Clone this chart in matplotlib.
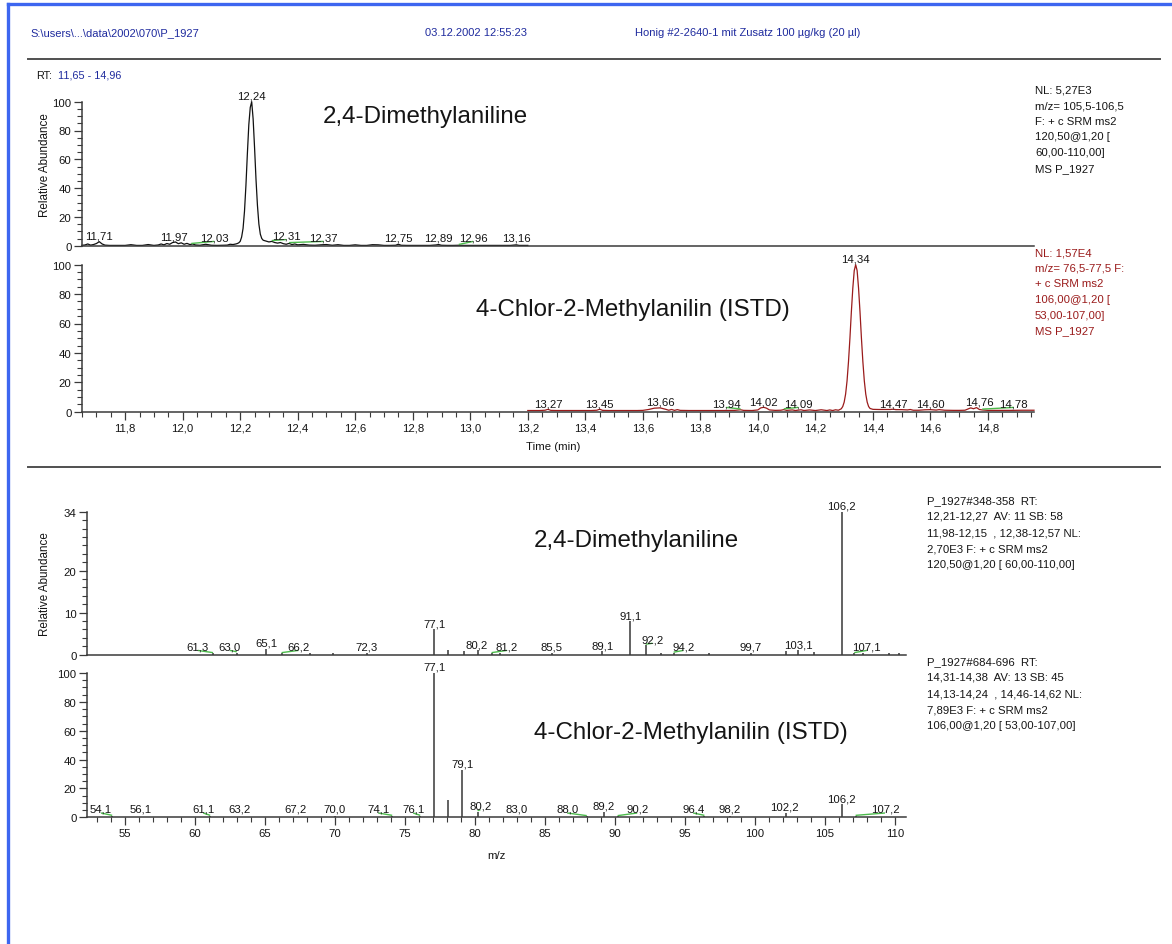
import matplotlib
matplotlib.use('Agg')
import matplotlib.pyplot as plt
from matplotlib.lines import Line2D
from matplotlib.ticker import MultipleLocator, FixedLocator, FuncFormatter

# ---------------- data ----------------
header_path = r"S:\users\...\data\2002\070\P_1927"
header_date = "03.12.2002 12:55:23"
header_sample = "Honig #2-2640-1 mit Zusatz 100 µg/kg (20 µl)"
rt_range = "11,65 - 14,96"

compound_1 = "2,4-Dimethylaniline"
compound_2 = "4-Chlor-2-Methylanilin (ISTD)"

chrom_xlim = (11.65, 14.96)
chrom_xticks = [11.8, 12.0, 12.2, 12.4, 12.6, 12.8, 13.0, 13.2, 13.4, 13.6, 13.8, 14.0, 14.2, 14.4, 14.6, 14.8]

chrom1_time = [11.650, 11.660, 11.670, 11.680, 11.690, 11.700, 11.710, 11.720, 11.730, 11.745,
               11.760, 11.780, 11.800, 11.820, 11.840, 11.850, 11.860, 11.880, 11.900, 11.915,
               11.925, 11.935, 11.945, 11.955, 11.965, 11.975, 11.985, 11.995, 12.005, 12.015,
               12.025, 12.035, 12.045, 12.060, 12.080, 12.100, 12.120, 12.140, 12.155, 12.165,
               12.175, 12.185, 12.190, 12.195, 12.200, 12.205, 12.210, 12.215, 12.220, 12.225,
               12.230, 12.235, 12.240, 12.245, 12.250, 12.255, 12.260, 12.265, 12.270, 12.275,
               12.280, 12.290, 12.300, 12.310, 12.320, 12.330, 12.340, 12.350, 12.360, 12.370,
               12.380, 12.390, 12.400, 12.420, 12.440, 12.460, 12.480, 12.500, 12.520, 12.540,
               12.560, 12.580, 12.600, 12.620, 12.640, 12.660, 12.680, 12.700, 12.720, 12.740,
               12.750, 12.760, 12.780, 12.800, 12.820, 12.840, 12.860, 12.880, 12.890, 12.900,
               12.920, 12.940, 12.960, 12.980, 13.000, 13.020, 13.040, 13.060, 13.080, 13.100,
               13.120, 13.140, 13.160, 13.170, 13.180, 13.200]
chrom1_abund = [0.3, 0.5, 1.2, 0.4, 0.8, 1.5, 2.8, 1.2, 0.4, 0.2,
                0.2, 0.2, 0.2, 0.7, 0.2, 0.2, 0.2, 0.8, 0.2, 0.5,
                1.2, 0.6, 1.5, 1.0, 2.2, 2.6, 1.4, 2.0, 1.0, 1.6,
                0.8, 1.2, 0.5, 0.3, 1.0, 0.3, 0.2, 0.3, 0.4, 1.0,
                0.8, 1.2, 1.5, 2.0, 3.0, 6.0, 12.0, 24.0, 42.0, 64.0,
                84.0, 96.0, 100.0, 88.0, 68.0, 46.0, 28.0, 15.0, 8.0, 5.0,
                3.8, 3.2, 2.6, 3.0, 2.2, 1.8, 2.2, 1.4, 1.0, 1.6,
                0.8, 1.2, 0.6, 0.9, 0.4, 0.3, 0.6, 0.8, 0.3, 0.7,
                0.2, 0.2, 0.6, 0.2, 0.2, 0.7, 0.6, 0.2, 0.2, 0.3,
                1.0, 0.3, 0.2, 0.2, 0.2, 0.2, 0.2, 0.5, 0.8, 0.3,
                0.2, 0.2, 0.3, 0.2, 0.2, 0.2, 0.2, 0.2, 0.2, 0.2,
                0.2, 0.2, 0.6, 0.2, 0.2, 0.2]
chrom1_peaks = [11.71, 11.97, 12.03, 12.24, 12.31, 12.37, 12.75, 12.89, 12.96, 13.16]

chrom2_time = [13.200, 13.220, 13.240, 13.260, 13.270, 13.280, 13.300, 13.320, 13.340, 13.360,
               13.380, 13.400, 13.420, 13.440, 13.450, 13.460, 13.480, 13.500, 13.520, 13.540,
               13.560, 13.580, 13.600, 13.620, 13.640, 13.660, 13.680, 13.690, 13.700, 13.710,
               13.720, 13.730, 13.760, 13.800, 13.840, 13.880, 13.920, 13.940, 13.950, 13.980,
               14.000, 14.010, 14.020, 14.030, 14.040, 14.060, 14.080, 14.090, 14.100, 14.120,
               14.130, 14.150, 14.160, 14.180, 14.200, 14.220, 14.240, 14.250, 14.260, 14.270,
               14.280, 14.290, 14.295, 14.300, 14.305, 14.310, 14.315, 14.320, 14.325, 14.330,
               14.335, 14.340, 14.345, 14.350, 14.355, 14.360, 14.365, 14.370, 14.375, 14.380,
               14.385, 14.390, 14.400, 14.420, 14.440, 14.460, 14.470, 14.480, 14.500, 14.520,
               14.530, 14.540, 14.560, 14.580, 14.600, 14.620, 14.630, 14.650, 14.680, 14.700,
               14.720, 14.740, 14.750, 14.760, 14.770, 14.780, 14.800, 14.840, 14.880, 14.920,
               14.960]
chrom2_abund = [0.8, 0.8, 0.8, 1.0, 1.6, 0.9, 0.8, 0.8, 0.8, 0.8,
                0.8, 0.8, 0.8, 1.0, 1.7, 0.9, 0.8, 0.8, 0.8, 0.8,
                0.8, 0.8, 0.9, 1.5, 2.4, 2.6, 1.6, 1.0, 1.5, 0.9,
                1.4, 0.9, 0.8, 0.8, 0.8, 0.8, 0.9, 1.3, 0.9, 0.8,
                1.2, 2.6, 3.0, 2.4, 1.2, 0.9, 1.0, 1.4, 0.9, 1.2,
                0.8, 1.3, 0.8, 1.2, 0.8, 1.3, 0.8, 1.2, 0.8, 1.3,
                1.0, 2.0, 3.5, 6.5, 12.0, 21.0, 34.0, 50.0, 68.0, 84.0,
                96.0, 100.0, 96.0, 84.0, 68.0, 50.0, 34.0, 21.0, 12.0, 6.5,
                3.5, 2.2, 1.6, 1.5, 1.5, 1.5, 1.7, 1.4, 1.4, 1.2,
                1.5, 1.0, 1.0, 1.3, 1.4, 1.1, 1.4, 1.0, 0.9, 0.9,
                1.0, 2.6, 2.0, 2.8, 1.5, 1.2, 0.9, 0.9, 0.9, 1.0,
                1.0]
chrom2_peaks = [13.27, 13.45, 13.66, 13.94, 14.02, 14.09, 14.34, 14.47, 14.60, 14.76, 14.78]

chrom1_info = ["NL: 5,27E3", "m/z= 105,5-106,5", "F: + c SRM ms2",
               "120,50@1,20 [", "60,00-110,00]", "MS P_1927"]
chrom2_info = ["NL: 1,57E4", "m/z= 76,5-77,5 F:", "+ c SRM ms2",
               "106,00@1,20 [", "53,00-107,00]", "MS P_1927"]

spec_xlim = (52.3, 110.8)
spec_xticks = [55, 60, 65, 70, 75, 80, 85, 90, 95, 100, 105, 110]
spec1_yticks = [0, 10, 20, 34]

spec1_mz = [61.3, 63.0, 65.1, 66.2, 68.2, 69.9, 72.3, 77.1, 78.1, 79.2,
            80.2, 81.2, 81.8, 85.5, 89.1, 91.1, 92.2, 93.3, 94.2, 96.7,
            99.7, 102.2, 103.1, 104.2, 106.2, 107.1, 107.7, 109.6, 110.3]
spec1_abund = [0.3, 0.5, 1.4, 0.3, 0.5, 0.3, 0.4, 6.1, 1.0, 0.8,
               1.1, 0.3, 0.5, 0.3, 0.8, 7.9, 2.3, 0.4, 0.4, 0.3,
               0.5, 0.8, 1.1, 0.6, 34.0, 0.3, 0.4, 0.3, 0.3]
spec1_peaks = [61.3, 63.0, 65.1, 66.2, 72.3, 77.1, 80.2, 81.2, 85.5, 89.1,
               91.1, 92.2, 94.2, 99.7, 103.1, 106.2, 107.1]

spec2_mz = [54.1, 56.1, 61.1, 63.2, 67.2, 70.0, 74.1, 76.1, 77.1, 78.1,
            79.1, 80.2, 83.0, 88.0, 89.2, 90.2, 96.4, 98.2, 102.2, 106.2, 107.2]
spec2_abund = [0.8, 0.5, 0.8, 0.5, 0.5, 0.6, 0.8, 0.8, 100.0, 12.0,
               33.0, 4.0, 0.5, 0.6, 4.0, 0.6, 0.8, 0.6, 3.0, 9.2, 0.8]
spec2_peaks = [54.1, 56.1, 61.1, 63.2, 67.2, 70.0, 74.1, 76.1, 77.1, 79.1,
               80.2, 83.0, 88.0, 89.2, 90.2, 96.4, 98.2, 102.2, 106.2, 107.2]

spec1_info = ["P_1927#348-358  RT:", "12,21-12,27  AV: 11 SB: 58",
              "11,98-12,15  , 12,38-12,57 NL:", "2,70E3 F: + c SRM ms2",
              "120,50@1,20 [ 60,00-110,00]"]
spec2_info = ["P_1927#684-696  RT:", "14,31-14,38  AV: 13 SB: 45",
              "14,13-14,24  , 14,46-14,62 NL:", "7,89E3 F: + c SRM ms2",
              "106,00@1,20 [ 53,00-107,00]"]

# ---------------- layout (label displacement, not data) ----------------
chrom1_shift = {12.03: 0.08, 12.31: 0.05, 12.37: 0.12, 12.96: 0.05}
chrom2_shift = {13.94: -0.05, 14.09: 0.05, 14.76: 0.01, 14.78: 0.11}
spec1_shift = {61.3: -1.1, 63.0: -0.5, 66.2: 1.2, 80.2: -0.1, 81.2: 1.1,
               92.2: 0.5, 94.2: 0.7, 107.1: 0.9}
spec2_shift = {54.1: -0.8, 61.1: -0.5, 74.1: -1.0, 76.1: -0.5, 80.2: 0.2,
               88.0: -1.4, 90.2: 1.4, 96.4: -0.8, 102.2: -0.1, 107.2: 2.1}

plt.rcParams['font.family'] = ['Liberation Sans', 'DejaVu Sans']

W, H = 1172, 945
fig = plt.figure(figsize=(W / 100, H / 100), dpi=100)
fig.patch.set_facecolor('white')


def fx(px):
    return px / W


def fy(py):
    return 1 - py / H


def add_axes(l, t, r, b):
    return fig.add_axes([fx(l), fy(b), (r - l) / W, (b - t) / H])


AX_COL = '#3a3a3a'
TXT = '#151515'
GREEN = '#4cbb4c'
HEAD_BLUE = '#1f2b9e'
RED = '#9a1b1b'


def style(ax):
    for s in ['top', 'right']:
        ax.spines[s].set_visible(False)
    for s in ['left', 'bottom']:
        ax.spines[s].set_color(AX_COL)
        ax.spines[s].set_linewidth(1.1)
    ax.tick_params(which='major', direction='out', length=6, width=0.9, color=AX_COL,
                   labelsize=8.2, pad=1.5, labelcolor=TXT)
    ax.tick_params(which='minor', direction='out', length=3.5, width=0.8, color=AX_COL)
    ax.patch.set_alpha(0)


def label_peaks(ax, xs, hs, texts, shifts, upx, fmt_digits):
    for x, h in zip(xs, hs):
        dx = shifts.get(x, 0.0)
        anchor = max(h, 2.5 * upx)
        s = f"{x:.{fmt_digits}f}".replace('.', ',')
        ax.text(x + dx, anchor + 3.0 * upx, s, ha='center', va='baseline',
                fontsize=8.2, color=TXT)
        if abs(dx) > 0.02 and abs(dx) > 0 and not (fmt_digits == 1 and abs(dx) < 0.15):
            ax.plot([x, x + dx], [h + 0.8 * upx, anchor + 1.8 * upx], color=GREEN,
                    lw=1.0, clip_on=False, solid_capstyle='butt')


def interp(xq, xs, ys):
    for i in range(len(xs) - 1):
        if xs[i] <= xq <= xs[i + 1]:
            f = (xq - xs[i]) / (xs[i + 1] - xs[i])
            return ys[i] + f * (ys[i + 1] - ys[i])
    return 0.0


comma1 = FuncFormatter(lambda v, p: f"{v:.1f}".replace('.', ','))
intfmt = FuncFormatter(lambda v, p: f"{v:.0f}")

# ---------------- chromatogram 1 ----------------
c1 = (82, 102.7, 1034, 246.7)
ax1 = add_axes(*c1)
style(ax1)
ax1.plot(chrom1_time, chrom1_abund, color='#111111', lw=0.9, clip_on=False)
ax1.set_xlim(*chrom_xlim)
ax1.set_ylim(0, 100)
ax1.yaxis.set_major_locator(MultipleLocator(20))
ax1.yaxis.set_minor_locator(MultipleLocator(5))
ax1.yaxis.set_major_formatter(intfmt)
ax1.tick_params(axis='x', which='both', bottom=False, labelbottom=False)
upx1 = 100 / (c1[3] - c1[1])
label_peaks(ax1, chrom1_peaks, [interp(p, chrom1_time, chrom1_abund) for p in chrom1_peaks],
            None, chrom1_shift, upx1, 2)
ax1.text(0.358, 116.5 - c1[1], '', transform=ax1.transAxes)
fig.text(fx(425.5), fy(116.5), compound_1, fontsize=17.4, ha='center', va='center', color=TXT)

# ---------------- chromatogram 2 ----------------
c2 = (82, 265.7, 1034, 412.7)
ax2 = add_axes(*c2)
style(ax2)
ax2.plot(chrom2_time, chrom2_abund, color=RED, lw=0.9, clip_on=False)
ax2.set_xlim(*chrom_xlim)
ax2.set_ylim(0, 100)
ax2.yaxis.set_major_locator(MultipleLocator(20))
ax2.yaxis.set_minor_locator(MultipleLocator(5))
ax2.yaxis.set_major_formatter(intfmt)
ax2.xaxis.set_major_locator(FixedLocator(chrom_xticks))
ax2.xaxis.set_minor_locator(MultipleLocator(0.05))
ax2.xaxis.set_major_formatter(comma1)
upx2 = 100 / (c2[3] - c2[1])
label_peaks(ax2, chrom2_peaks, [interp(p, chrom2_time, chrom2_abund) for p in chrom2_peaks],
            None, chrom2_shift, upx2, 2)
fig.text(fx(633), fy(310), compound_2, fontsize=17.4, ha='center', va='center', color=TXT)
fig.text(fx(553), fy(447), "Time (min)", fontsize=8.2, ha='center', va='center', color=TXT)

# ---------------- spectrum 1 ----------------
s1 = (87, 512.7, 906, 655.7)
ax3 = add_axes(*s1)
style(ax3)
ax3.vlines(spec1_mz, 0, spec1_abund, color='#555555', lw=1.3, clip_on=False)
ax3.set_xlim(*spec_xlim)
ax3.set_ylim(0, 34)
ax3.yaxis.set_major_locator(FixedLocator(spec1_yticks))
ax3.yaxis.set_minor_locator(FixedLocator([v for v in range(2, 34, 2) if v not in spec1_yticks]))
ax3.yaxis.set_major_formatter(intfmt)
ax3.tick_params(axis='x', which='both', bottom=False, labelbottom=False)
upx3 = 34 / (s1[3] - s1[1])
label_peaks(ax3, spec1_peaks, [spec1_abund[spec1_mz.index(p)] for p in spec1_peaks],
            None, spec1_shift, upx3, 1)
fig.text(fx(636.7), fy(541.5), compound_1, fontsize=17.4, ha='center', va='center', color=TXT)

# ---------------- spectrum 2 ----------------
s2 = (87, 674, 906, 818.3)
ax4 = add_axes(*s2)
style(ax4)
ax4.vlines(spec2_mz, 0, spec2_abund, color='#555555', lw=1.3, clip_on=False)
ax4.set_xlim(*spec_xlim)
ax4.set_ylim(0, 100)
ax4.yaxis.set_major_locator(MultipleLocator(20))
ax4.yaxis.set_minor_locator(MultipleLocator(5))
ax4.yaxis.set_major_formatter(intfmt)
ax4.xaxis.set_major_locator(FixedLocator(spec_xticks))
ax4.xaxis.set_minor_locator(MultipleLocator(1))
ax4.xaxis.set_major_formatter(intfmt)
upx4 = 100 / (s2[3] - s2[1])
label_peaks(ax4, spec2_peaks, [spec2_abund[spec2_mz.index(p)] for p in spec2_peaks],
            None, spec2_shift, upx4, 1)
fig.text(fx(690.8), fy(733), compound_2, fontsize=17.4, ha='center', va='center', color=TXT)
fig.text(fx(496), fy(855.7), "m/z", fontsize=8.2, ha='center', va='center', color=TXT)

# ---------------- y labels ----------------
fig.text(fx(45), fy(165), "Relative Abundance", rotation=90, fontsize=8.4,
         ha='center', va='center', color=TXT)
fig.text(fx(45), fy(584), "Relative Abundance", rotation=90, fontsize=8.4,
         ha='center', va='center', color=TXT)

# ---------------- info blocks ----------------
for i, s in enumerate(chrom1_info):
    fig.text(fx(1035), fy(90.7 + 15.6 * i), s, fontsize=8.2, ha='left', va='center', color=TXT)
for i, s in enumerate(chrom2_info):
    fig.text(fx(1035), fy(253.3 + 15.6 * i), s, fontsize=8.2, ha='left', va='center', color=RED)
for i, s in enumerate(spec1_info):
    fig.text(fx(927), fy(500.7 + 16.2 * i), s, fontsize=8.2, ha='left', va='center', color=TXT)
for i, s in enumerate(spec2_info):
    fig.text(fx(927), fy(661.7 + 16.2 * i), s, fontsize=8.2, ha='left', va='center', color=TXT)

# ---------------- header ----------------
fig.text(fx(30), fy(33.3), header_path, fontsize=8.0, ha='left', va='center', color=HEAD_BLUE)
fig.text(fx(425), fy(33.3), header_date, fontsize=8.0, ha='left', va='center', color=HEAD_BLUE)
fig.text(fx(635), fy(33.3), header_sample, fontsize=8.0, ha='left', va='center', color=HEAD_BLUE)
fig.text(fx(36), fy(76), "RT:", fontsize=7.8, ha='left', va='center', color=TXT)
fig.text(fx(58), fy(76), rt_range, fontsize=7.8, ha='left', va='center', color=HEAD_BLUE)

# rules
for yy in (59.5, 467.5):
    fig.add_artist(Line2D([fx(28), fx(1160)], [fy(yy), fy(yy)], color='#505050', lw=1.4))

# blue frame
fig.add_artist(Line2D([fx(8), fx(8)], [fy(5), 0], color='#3d66f0', lw=2.4))
fig.add_artist(Line2D([fx(8), 1], [fy(5), fy(5)], color='#3d66f0', lw=2.4))

fig.savefig('out.png', dpi=100, facecolor='white')
